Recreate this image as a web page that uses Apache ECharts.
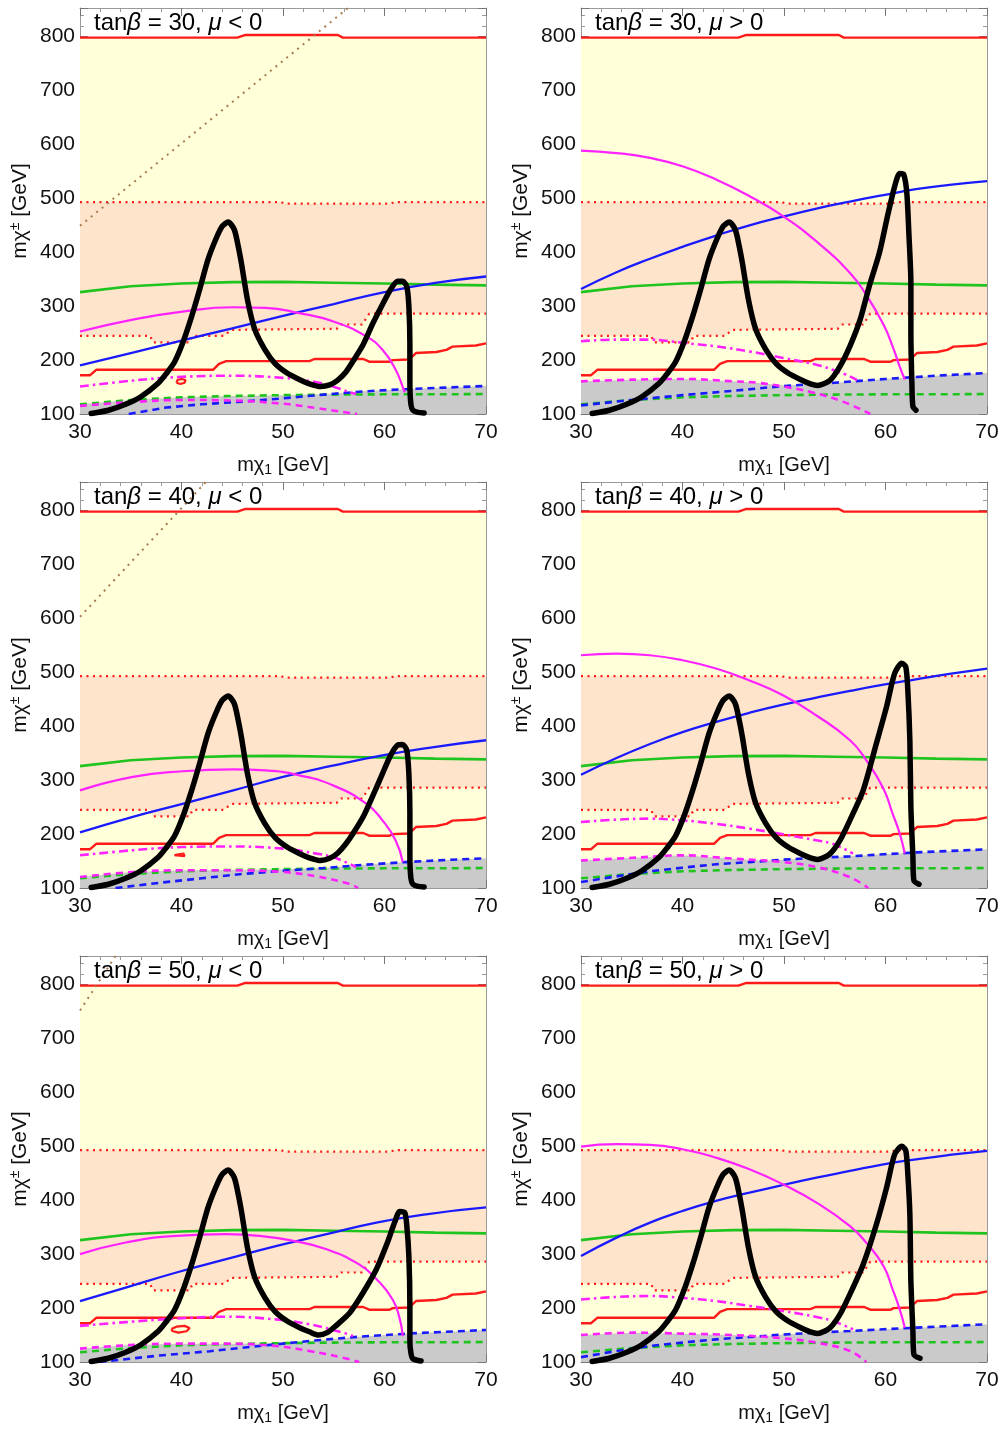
<!DOCTYPE html>
<html><head><meta charset="utf-8">
<script src="https://cdn.jsdelivr.net/npm/echarts@6/dist/echarts.min.js"></script>
<style>html,body{margin:0;padding:0;background:#fff}#c{width:1004px;height:1430px}</style>
</head><body><div id="c"></div>
<script>
// ---------- shared curves (same in all six panels) ----------
const redTop    = [[30,798],[45.5,798],[46.3,803],[55.4,803],[55.9,798],[70,798]];
const redDotUp  = [[30,493],[49.8,493],[50.2,490],[60.6,490],[61,493],[70,493]];
const redDotLow = [[30,245],[36.9,245],[37.2,233],[40.8,233],[41.1,245],[44.2,245],[44.9,256],[50,257],[55.3,258],[55.7,266],[57.8,266],[58.5,286],[70,286]];
const redLow    = [[30,172],[31,172],[31.6,182],[43.1,182],[43.7,193],[44.4,198],[52.6,198],[53.1,202],[57.9,202],[58.5,197],[60.5,197],[60.8,200],[62.4,201],[63.1,213],[65.1,215],[66.1,219],[66.7,225],[69,227],[70,231]];
const green     = [[30,326],[35,337],[40,342],[45,344.5],[50,345],[55,343.5],[60,342],[65,340],[70,338.5]];
const greenDash = [[30,118],[35,126],[40,131],[45,133.5],[50,135],[55,136],[60,136.5],[65,136.5],[70,137]];
const blackLeft = [[31.1,101],[32.8,107],[34.5,118],[36.0,132],[37.7,157],[38.5,175],[39.3,196],[40.2,236],[41.0,281],[41.8,332],[42.6,386],[43.4,425],[44.0,448],[44.6,456],[45.2,442],[45.6,410],[45.9,380],[46.5,312],[47.2,258],[48.2,220],[49.2,194],[50.4,176],[51.6,164],[52.6,156]];

// ---------- tan(beta)=30, mu<0 ----------
const blue1     = [[30,190],[35,213],[40,236],[45,259],[50,282],[55,304],[60,326],[65,343],[70,355]];
const blueDash1 = [[34.8,100],[38.5,112],[42,118],[46,123],[50,129],[54,136],[58,142],[62,146],[66,149],[70,152]];
const mag1      = [[30,253],[35.2,275],[40.1,290],[45.1,298],[48.3,297],[51.6,287],[54.9,272],[58.2,244],[59.8,219],[61.1,182],[61.9,145],[62,140]];
const magDD1    = [[30,151],[35.2,162],[40.1,169],[45.1,171],[50,167],[53.3,159],[54.9,151],[56.5,141],[57.2,137]];
const magDash1  = [[30,115],[35,122],[40,126],[45,125],[50,119],[53.3,111],[55.5,105],[57.3,100]];
const gray1     = [[30,118],[35,126],[40,131],[45,133.5],[50,135],[54,136.5],[58,142],[62,146],[66,149],[70,152]];
const brown1    = [[30,449],[56.4,853]];
const loop1     = [[39.5,158],[39.6,163],[40.0,165],[40.4,163],[40.3,158],[39.9,155.5],[39.5,158]];
const blackR1   = [[53.7,151],[54.6,154],[55.4,163],[56.2,178],[56.9,198],[57.9,229],[58.8,266],[59.8,303],[60.6,331],[61.3,346],[61.8,346],[62.2,336],[62.4,300],[62.5,230],[62.5,160],[62.6,118],[62.8,107],[63.3,103],[63.9,102]];

// ---------- tan(beta)=30, mu>0 ----------
const blue2     = [[30,332],[33.5,363],[36.8,388],[40,410],[43.3,431],[46.6,450],[49.9,466],[53.2,481],[56.5,494],[59.8,506],[63,517],[66.3,525],[70,532]];
const blueDash2 = [[30,116],[35,126],[40,135],[45,143],[50,152],[55,158],[60,165],[65,171],[70,176]];
const mag2      = [[30,588.6],[33.5,584],[36.8,575],[40,559.5],[43.3,535],[46.6,504],[49.9,467],[53.2,420],[56.5,361.6],[58.1,321],[59.8,266],[60.7,225.5],[61.4,188],[61.9,164]];
const magDD2    = [[30,235],[33.5,238],[36.8,238],[40,232],[43.3,225.5],[46.6,216],[49.9,204],[53.2,191.5],[54.8,182],[56.1,173],[57.2,163]];
const magDash2  = [[30,160.6],[35.1,163.7],[40,165],[45,160.6],[47.6,157.6],[49.9,151],[52.6,141],[55.8,123],[58.5,100]];
const gray2     = [[30,160.6],[35.1,163.7],[40,165],[45,160.6],[47.6,157.6],[50,153],[55,158],[60,165],[65,171],[70,176]];
const blackR2   = [[53.3,153],[54.5,162],[55.5,188],[56.5,226],[57.5,275],[58.4,337],[59.4,399],[60.2,467],[60.9,522],[61.4,546],[61.8,544],[62.1,510],[62.3,436],[62.5,343],[62.5,250],[62.6,157],[62.7,114],[63.0,107]];

// ---------- tan(beta)=40, mu<0 ----------
const blue3     = [[30,203],[35.2,232],[40.1,256],[45.1,281],[50,306],[54.9,327],[59.8,346],[64.7,361],[70,374]];
const blueDash3 = [[33.5,100],[38,110],[42,118],[46,126],[50,132],[54,137],[58,143],[62,148],[66,152],[70,155]];
const mag3      = [[30,281],[35.2,306],[40.1,316.5],[45.1,320],[48.3,318],[51.6,309],[54.9,290.5],[58.2,256.5],[59.8,225.5],[61.1,188],[61.8,148]];
const magDD3    = [[30,160.6],[35.2,170],[40.1,176],[45.1,177],[50,173],[53.3,163.7],[54.9,157.5],[57.2,139]];
const magDash3  = [[30,120.4],[35.2,129.7],[40.1,132.8],[45.1,132.8],[50,129.7],[53.3,121.6],[56.5,108],[57.4,100]];
const gray3     = [[30,120.4],[35,129.7],[40,132.8],[45,133.5],[50,135],[54,137],[58,143],[62,148],[66,152],[70,155]];
const brown3    = [[30,603],[42.4,853]];
const loop3     = [[39.3,161],[40.2,164],[40.3,159],[39.3,161]];
const blackR3   = [[53.7,151],[54.6,155],[55.4,165],[56.2,182],[56.9,201],[57.9,232],[58.8,269],[59.8,312],[60.6,346],[61.3,365],[61.8,366],[62.2,355],[62.4,312],[62.5,240],[62.5,160],[62.6,118],[62.8,107],[63.3,103],[63.9,102]];

// ---------- tan(beta)=40, mu>0 ----------
const blue4     = [[30,310],[33.5,341],[36.8,367],[40,389],[43.3,408],[46.6,425],[49.9,440],[53.2,453],[56.5,465.5],[59.8,477],[63,487],[66.3,497],[70,507]];
const blueDash4 = [[30,111],[33.5,121.6],[36.8,131],[40,137.7],[43.3,144],[46.6,148],[49.9,152.6],[53.2,156],[56.5,158.7],[59.8,162.5],[63,166],[70,171.7]];
const mag4      = [[30,531.7],[33.5,534.8],[36.8,531.7],[40,522.4],[43.3,507],[46.6,485],[49.9,457.5],[53.2,420],[56.5,374],[58.1,337],[59.8,284],[60.7,238],[61.4,201],[61.9,163.7]];
const magDD4    = [[30,222.4],[33.5,226.8],[36.8,228.6],[40,225.5],[43.3,219],[46.6,210],[49.9,199.6],[53.2,188.4],[54.8,182],[56.8,163.7]];
const magDash4  = [[30,151],[35.1,156],[40,160.6],[45,154.4],[49.9,148],[53.2,139],[56.5,120],[58.3,100]];
const gray4     = [[30,151],[35.1,156],[40,160.6],[45,154.4],[48,150.5],[49.9,152.6],[53.2,156],[56.5,158.7],[59.8,162.5],[63,166],[70,171.7]];
const blackR4   = [[53.3,153],[54.5,163],[55.5,188],[56.5,226],[57.8,281],[59.1,368],[60.1,436],[60.9,498],[61.6,517],[62.0,510],[62.2,467],[62.4,374],[62.5,250],[62.7,157],[62.8,114],[63.3,107]];

// ---------- tan(beta)=50, mu<0 ----------
const blue5     = [[30,213],[34.5,238],[39.5,266],[44.4,290.6],[49.3,315],[54.3,337],[59.2,358.7],[64.1,374],[70,386.6]];
const blueDash5 = [[31.9,100],[37.8,112],[42.8,120],[47.7,129.7],[52.6,139],[57.5,147],[62.5,153],[70,159.4]];
const mag5      = [[30,300],[34.5,321.6],[39.5,334],[44.4,337],[47.7,334],[51,324.7],[54.3,309],[57.5,281],[59.2,254],[60.8,216],[61.5,180],[61.8,148]];
const magDD5    = [[30,167],[34.5,174],[39.5,180.5],[44.4,184],[49.3,179],[52.6,170],[55.9,154.5],[56.9,148]];
const magDash5  = [[30,124.8],[34.5,131],[39.5,134],[44.4,134],[49.3,129.7],[52.6,120.4],[55.9,108],[57.5,100]];
const gray5     = [[30,124.8],[34.5,131],[39.5,134],[44.4,134],[48,134.5],[51,135.5],[52.6,139],[57.5,147],[62.5,153],[70,159.4]];
const brown5    = [[30,752],[33.5,853]];
const loop5     = [[39.0,161],[39.5,165.5],[40.3,167],[40.8,163],[40.5,157],[39.7,154.5],[39.1,157.5],[39.0,161]];
const blackR5   = [[53.5,150],[54.4,155],[55.2,167],[56.6,192],[57.9,229],[59.2,272],[60.3,322],[61.0,359],[61.5,379],[62.0,377],[62.2,352],[62.4,297],[62.5,204],[62.5,140],[62.6,117],[62.8,106],[63.6,102]];

// ---------- tan(beta)=50, mu>0 ----------
const blue6     = [[30,296.7],[33.5,330.7],[36.8,358.5],[40,380],[43.3,398.7],[46.6,414],[49.9,428.4],[53.2,442],[56.5,454.4],[59.8,466.7],[63,476],[66.3,484],[70,491.5]];
const blueDash6 = [[30,109],[33.5,120.4],[36.8,129.7],[40,136],[43.3,142],[46.6,146.4],[49.9,151],[53.2,154.4],[56.5,157.5],[59.8,160.6],[63,163.7],[70,170]];
const mag6      = [[30,499.5],[33.5,504],[36.8,502.6],[40,494.5],[43.3,479],[46.6,457.5],[49.9,429.6],[53.2,395.6],[56.5,352],[58.1,321.4],[59.8,278],[60.7,234.8],[61.4,197.7],[61.9,163.7]];
const magDD6    = [[30,216],[33.5,220.6],[36.8,222.4],[40,219],[43.3,213],[46.6,204],[49.9,194.6],[53.2,183.5],[54.8,176],[56.8,160.6]];
const magDash6  = [[30,150],[35.1,154.4],[40,152.6],[45,150],[49.9,144],[53.2,136],[56.5,120.4],[58.1,100]];
const gray6     = [[30,150],[35.1,154.4],[40,152.6],[45,150],[47.5,147.5],[49.9,151],[53.2,154.4],[56.5,157.5],[59.8,160.6],[63,163.7],[70,170]];
const blackR6   = [[53.3,153],[54.5,163],[55.5,188],[56.5,226],[57.8,281],[59.1,355],[60.1,423],[60.9,485],[61.6,500],[62.0,492],[62.2,448],[62.4,374],[62.5,250],[62.7,157],[62.8,114],[63.4,107]];

const tanBeta = ['30','30','40','40','50','50'];
const muSign  = ['<','>','<','>','<','>'];
const xTicks = {min:30, max:70, step:10};
const yTicks = {min:100, max:853, step:100};

const panels = [
  {blue:blue1,blueDash:blueDash1,mag:mag1,magDD:magDD1,magDash:magDash1,gray:gray1,black:blackLeft.concat(blackR1),brown:brown1,loop:loop1},
  {blue:blue2,blueDash:blueDash2,mag:mag2,magDD:magDD2,magDash:magDash2,gray:gray2,black:blackLeft.concat(blackR2)},
  {blue:blue3,blueDash:blueDash3,mag:mag3,magDD:magDD3,magDash:magDash3,gray:gray3,black:blackLeft.concat(blackR3),brown:brown3,loop:loop3},
  {blue:blue4,blueDash:blueDash4,mag:mag4,magDD:magDD4,magDash:magDash4,gray:gray4,black:blackLeft.concat(blackR4)},
  {blue:blue5,blueDash:blueDash5,mag:mag5,magDD:magDD5,magDash:magDash5,gray:gray5,black:blackLeft.concat(blackR5),brown:brown5,loop:loop5},
  {blue:blue6,blueDash:blueDash6,mag:mag6,magDD:magDD6,magDash:magDash6,gray:gray6,black:blackLeft.concat(blackR6)}
];

const FF = '"Liberation Sans", Arial, sans-serif';
const COLS = [80, 581], ROWS = [8, 482, 956], W = 406, H = 406;
const C = {yellow:'#ffffd9', peach:'#ffe4cc', gray:'#cacaca', red:'#ff1a1a', green:'#1fc41f', blue:'#1a1aff', mag:'#ff22ff', brown:'#a67b50', frame:'#9a9a9a'};

const grids=[], xAxes=[], yAxes=[], series=[], graphics=[];
panels.forEach((p,i)=>{
  const c=i%2, r=Math.floor(i/2);
  grids.push({left:COLS[c], top:ROWS[r], width:W, height:H});
  const tickCommon = {
    axisLine:{show:true,onZero:false,lineStyle:{color:C.frame,width:1}},
    axisTick:{show:true,inside:true,length:8,lineStyle:{color:'#777',width:1}},
    minorTick:{show:true,splitNumber:5,length:4,lineStyle:{color:'#999',width:1}},
    splitLine:{show:false}, minorSplitLine:{show:false}
  };
  xAxes.push(Object.assign({gridIndex:i,type:'value',min:xTicks.min,max:xTicks.max,interval:xTicks.step,position:'bottom',
    axisLabel:{fontSize:21,color:'#111',margin:8,fontFamily:FF},
    name:'{a|mχ}{b|1}{a| [GeV]}', nameLocation:'middle', nameGap:39,
    nameTextStyle:{rich:{a:{fontSize:20,fontFamily:FF,color:'#111'},b:{fontSize:14,fontFamily:FF,color:'#111',padding:[10,0,0,0]}}}
  }, tickCommon));
  xAxes.push(Object.assign({gridIndex:i,type:'value',min:xTicks.min,max:xTicks.max,interval:xTicks.step,position:'top',axisLabel:{show:false}}, tickCommon));
  yAxes.push(Object.assign({gridIndex:i,type:'value',min:yTicks.min,max:yTicks.max,interval:yTicks.step,position:'left',
    axisLabel:{fontSize:21,color:'#111',margin:5,fontFamily:FF,showMaxLabel:false},
    name:'{a|mχ}{s|±}{a| [GeV]}', nameLocation:'middle', nameGap:48,
    nameTextStyle:{rich:{a:{fontSize:21,fontFamily:FF,color:'#111'},s:{fontSize:14,fontFamily:FF,color:'#111',padding:[0,0,10,0]}}}
  }, tickCommon));
  yAxes.push(Object.assign({gridIndex:i,type:'value',min:yTicks.min,max:yTicks.max,interval:yTicks.step,position:'right',axisLabel:{show:false}}, tickCommon));

  const base = {type:'line',xAxisIndex:2*i,yAxisIndex:2*i,symbol:'none',silent:true,animation:false,z:2};
  const area = (data,color)=>Object.assign({},base,{data,lineStyle:{width:0,opacity:0},areaStyle:{color,opacity:1,origin:'start'}});
  const ln = (data,color,width,type,extra)=>Object.assign({},base,{data,lineStyle:Object.assign({color,width,type:type||'solid'},extra||{})});
  series.push(area(redTop,C.yellow));
  series.push(area(redDotUp,C.peach));
  series.push(area(redDotLow,C.yellow));
  series.push(area(p.gray,C.gray));
  series.push(ln(redTop,C.red,2.4));
  series.push(ln(redDotUp,C.red,2.2,[2,4.5]));
  series.push(ln(redDotLow,C.red,2.2,[2,4.5]));
  series.push(ln(redLow,C.red,2.4));
  series.push(ln(green,C.green,2.6));
  series.push(ln(greenDash,C.green,2.6,[7,5]));
  series.push(Object.assign(ln(p.blue,C.blue,2.3),{smooth:0.5}));
  series.push(ln(p.blueDash,C.blue,2.6,[7,5]));
  series.push(Object.assign(ln(p.mag,C.mag,2.2),{smooth:0.5}));
  series.push(Object.assign(ln(p.magDD,C.mag,2.6,[9,4,2.5,4]),{smooth:0.4}));
  series.push(Object.assign(ln(p.magDash,C.mag,2.6,[7,5]),{smooth:0.4}));
  if (p.brown) series.push(ln(p.brown,C.brown,2,[2,5]));
  if (p.loop) series.push(ln(p.loop,C.red,2.2));
  series.push(Object.assign(ln(p.black,'#000',5.5,'solid',{join:'round',cap:'round'}),{smooth:0.25}));

  graphics.push({type:'text', left:COLS[c]+14, top:ROWS[r]+3, z:100,
    style:{text:'{a|tan}{i|β}{a| = '+tanBeta[i]+', }{i|μ}{a| '+muSign[i]+' 0}',
      rich:{a:{fontSize:24,fontFamily:FF,fill:'#000'},i:{fontSize:24,fontFamily:FF,fontStyle:'italic',fill:'#000'}}}});
});

const chart = echarts.init(document.getElementById('c'), null, {renderer:'canvas'});
chart.setOption({animation:false, backgroundColor:'#fff', grid:grids, xAxis:xAxes, yAxis:yAxes, series, graphic:graphics});
</script></body></html>
